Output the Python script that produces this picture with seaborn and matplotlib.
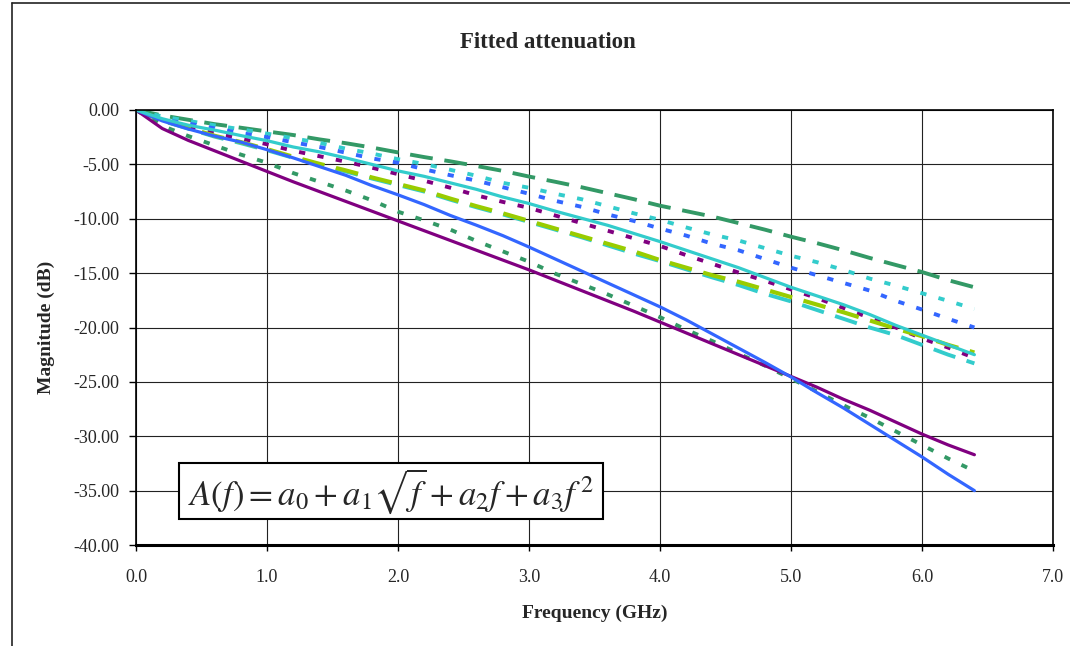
import matplotlib
matplotlib.use("Agg")
import matplotlib.pyplot as plt
import seaborn as sns
import pandas as pd
from matplotlib.lines import Line2D
from matplotlib.patches import Rectangle

# ---------------- data ----------------
freq_ghz = [0.0, 0.2, 0.4, 0.6, 0.8, 1.0, 1.2, 1.4, 1.6, 1.8, 2.0, 2.2, 2.4, 2.6, 2.8, 3.0,
            3.2, 3.4, 3.6, 3.8, 4.0, 4.2, 4.4, 4.6, 4.8, 5.0, 5.2, 5.4, 5.6, 5.8, 6.0, 6.2, 6.4]

purple_solid = [0.0, -1.7, -2.8, -3.75, -4.7, -5.65, -6.6, -7.5, -8.4, -9.3, -10.2, -11.1, -12.0,
                -12.9, -13.8, -14.7, -15.65, -16.6, -17.55, -18.5, -19.5, -20.5, -21.5, -22.5,
                -23.5, -24.5, -25.5, -26.6, -27.6, -28.7, -29.8, -30.8, -31.7]
blue_solid = [0.0, -1.0, -1.75, -2.4, -2.95, -3.65, -4.4, -5.2, -6.0, -6.95, -7.8, -8.7, -9.7,
              -10.6, -11.55, -12.6, -13.7, -14.8, -15.9, -17.0, -18.1, -19.3, -20.6, -21.9,
              -23.2, -24.55, -26.0, -27.4, -28.9, -30.4, -31.9, -33.5, -35.0]
cyan_solid = [0.0, -0.8, -1.4, -1.85, -2.35, -2.82, -3.4, -3.85, -4.4, -5.0, -5.6, -6.1, -6.7,
              -7.3, -8.0, -8.6, -9.3, -9.95, -10.6, -11.35, -12.1, -12.9, -13.7, -14.5, -15.4,
              -16.3, -17.1, -17.9, -18.8, -19.8, -20.7, -21.6, -22.5]
green_longdash = [0.0, -0.5, -0.9, -1.3, -1.63, -1.97, -2.3, -2.7, -3.05, -3.45, -3.9, -4.33,
                  -4.72, -5.15, -5.6, -6.12, -6.6, -7.1, -7.65, -8.2, -8.8, -9.3, -9.8, -10.4,
                  -11.0, -11.65, -12.25, -12.9, -13.6, -14.25, -14.9, -15.65, -16.3]
cyan_shortdash = [0.0, -0.6, -1.0, -1.41, -1.77, -2.17, -2.6, -3.02, -3.55, -4.0, -4.52, -4.97,
                  -5.5, -6.05, -6.7, -7.15, -7.7, -8.2, -8.85, -9.5, -10.1, -10.8, -11.45, -12.0,
                  -12.7, -13.4, -14.0, -14.7, -15.5, -16.15, -16.85, -17.55, -18.3]
blue_shortdash = [0.0, -0.9, -1.25, -1.69, -2.12, -2.5, -2.97, -3.4, -3.92, -4.45, -4.85, -5.45,
                  -6.0, -6.5, -7.1, -7.7, -8.35, -8.9, -9.6, -10.2, -10.9, -11.55, -12.3, -12.9,
                  -13.7, -14.5, -15.2, -15.9, -16.6, -17.55, -18.35, -19.2, -20.0]
purple_shortdash = [0.0, -1.0, -1.57, -2.15, -2.62, -3.15, -3.75, -4.25, -4.75, -5.3, -5.9, -6.5,
                    -7.15, -7.85, -8.45, -9.0, -9.7, -10.4, -11.1, -11.8, -12.5, -13.35, -14.15,
                    -14.95, -15.7, -16.5, -17.3, -18.2, -19.1, -20.0, -21.0, -21.85, -22.8]
lime_longdash = [0.0, -0.95, -1.65, -2.37, -2.95, -3.6, -4.3, -4.95, -5.55, -6.2, -6.8, -7.4,
                 -8.15, -8.85, -9.5, -10.2, -10.9, -11.6, -12.3, -13.0, -13.8, -14.5, -15.2,
                 -15.8, -16.5, -17.2, -17.9, -18.6, -19.35, -20.1, -20.8, -21.6, -22.3]
cyan_longdash = [0.0, -1.0, -1.72, -2.45, -3.05, -3.7, -4.4, -5.05, -5.65, -6.3, -6.9, -7.5,
                 -8.25, -8.95, -9.6, -10.3, -11.0, -11.7, -12.45, -13.2, -13.9, -14.65, -15.4,
                 -16.1, -16.9, -17.6, -18.4, -19.2, -20.0, -20.7, -21.6, -22.5, -23.3]
green_shortdash = [0.0, -1.45, -2.4, -3.25, -4.1, -4.85, -5.8, -6.6, -7.4, -8.3, -9.35, -10.15,
                   -11.0, -12.05, -13.0, -13.95, -15.05, -16.0, -16.95, -18.0, -19.05, -20.2,
                   -21.25, -22.4, -23.5, -24.7, -25.9, -27.15, -28.3, -29.55, -30.8, -32.05, -33.2]

x_ticks = [0, 1, 2, 3, 4, 5, 6, 7]
x_tick_labels = ["0.0", "1.0", "2.0", "3.0", "4.0", "5.0", "6.0", "7.0"]
y_ticks = [0, -5, -10, -15, -20, -25, -30, -35, -40]
y_tick_labels = ["0.00", "-5.00", "-10.00", "-15.00", "-20.00", "-25.00", "-30.00", "-35.00", "-40.00"]

# ---------------- style ----------------
sns.set_theme(style="white")
plt.rcParams["font.family"] = ["Liberation Serif", "DejaVu Serif"]
plt.rcParams["mathtext.fontset"] = "stix"
plt.rcParams["axes.unicode_minus"] = False
plt.rcParams["lines.scale_dashes"] = False

W, H = 1070, 646
fig = plt.figure(figsize=(W / 100, H / 100), dpi=100)
fig.patch.set_facecolor("white")
L, R, T, B = 136, 1053, 110, 545
ax = fig.add_axes([L / W, 1 - B / H, (R - L) / W, (B - T) / H])
ax.set_facecolor("white")

LONG = (0, (16.5, 8.5))
SHORT = (0, (4.5, 9.0))

series = [
    (green_longdash, "#339966", LONG, 2.8),
    (cyan_shortdash, "#33CCCC", SHORT, 2.8),
    (blue_shortdash, "#3366FF", SHORT, 2.8),
    (purple_shortdash, "#800080", SHORT, 2.8),
    (cyan_longdash, "#33CCCC", LONG, 2.8),
    (lime_longdash, "#99CC00", LONG, 3.0),
    (green_shortdash, "#339966", SHORT, 2.8),
    (purple_solid, "#800080", "-", 2.3),
    (blue_solid, "#3366FF", "-", 2.3),
    (cyan_solid, "#33CCCC", "-", 2.3),
]

for vals, col, ls, lw in series:
    df = pd.DataFrame({"f": freq_ghz, "A": vals})
    sns.lineplot(data=df, x="f", y="A", ax=ax, color=col, linestyle=ls,
                 linewidth=lw, estimator=None, sort=False, legend=False)

ax.set_xlim(0, 7)
ax.set_ylim(-40, 0)
ax.set_xticks(x_ticks)
ax.set_xticklabels(x_tick_labels)
ax.set_yticks(y_ticks)
ax.set_yticklabels(y_tick_labels)
ax.set_xlabel("")
ax.set_ylabel("")
ax.grid(True, color="#222222", linewidth=0.8)
ax.set_axisbelow(True)
for s in ["top", "right", "left"]:
    ax.spines[s].set_color("black")
    ax.spines[s].set_linewidth(1.2)
ax.spines["bottom"].set_color("black")
ax.spines["bottom"].set_linewidth(2.2)
ax.tick_params(axis="y", direction="out", length=5, width=1, color="black",
               labelsize=13, pad=7, left=True)
ax.tick_params(axis="x", direction="out", length=4, width=1, color="black",
               labelsize=13, pad=13, bottom=True)

# equation box
ax.add_patch(Rectangle((0.0469, 0.0598), 0.4624, 0.1287, transform=ax.transAxes,
                       facecolor="white", edgecolor="black", linewidth=1.5, zorder=5))
ax.text(0.278, 0.124, r"$A(f) = a_0 + a_1\sqrt{f} + a_2 f + a_3 f^{\,2}$",
        transform=ax.transAxes, ha="center", va="center", fontsize=25, zorder=6)

fig.text(548 / W, 1 - 42 / H, "Fitted attenuation", ha="center", va="center",
         fontsize=16.5, fontweight="bold")
fig.text(595 / W, 1 - 613 / H, "Frequency (GHz)", ha="center", va="center",
         fontsize=14, fontweight="bold")
fig.text(46 / W, 1 - 327 / H, "Magnitude (dB)", ha="center", va="center",
         fontsize=14, fontweight="bold", rotation=90)

# chart-area frame (cropped at right and bottom)
fig.add_artist(Line2D([12 / W, 1.0], [1 - 3 / H, 1 - 3 / H], transform=fig.transFigure,
                      color="#222222", linewidth=1.2))
fig.add_artist(Line2D([12 / W, 12 / W], [1 - 3 / H, 0.0], transform=fig.transFigure,
                      color="#222222", linewidth=1.2))

fig.savefig("out.png", dpi=100, facecolor="white")
